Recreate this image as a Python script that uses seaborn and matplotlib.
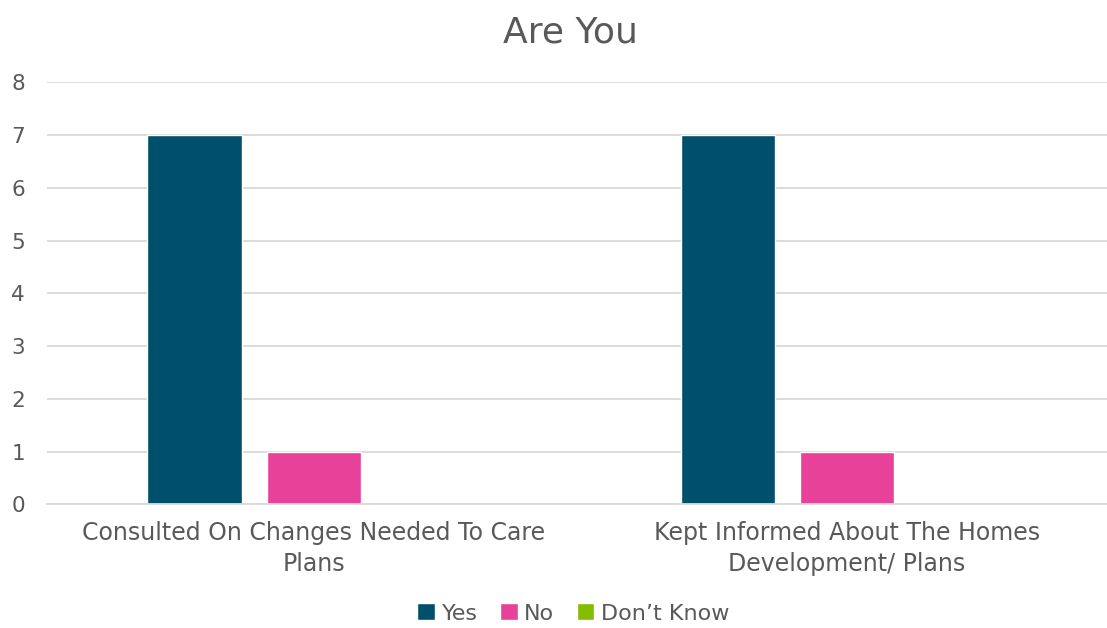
import matplotlib
matplotlib.use("Agg")
import matplotlib.pyplot as plt
import seaborn as sns
import pandas as pd

categories = ["Consulted On Changes Needed To Care\nPlans",
              "Kept Informed About The Homes\nDevelopment/ Plans"]
series = ["Yes", "No", "Don\u2019t Know"]
yes_vals = [7, 7]
no_vals = [1, 1]
dk_vals = [0, 0]
colors = ["#00506B", "#E8419A", "#84BC00"]
yticks = [0, 1, 2, 3, 4, 5, 6, 7, 8]

rows = []
for s, vals in zip(series, [yes_vals, no_vals, dk_vals]):
    for c, v in zip(categories, vals):
        rows.append({"category": c, "series": s, "value": v})
df = pd.DataFrame(rows)

sns.set_theme(style="white")
plt.rcParams['font.family'] = ['DejaVu Sans']
text_color = "#595959"

fig = plt.figure(figsize=(11.07, 6.28), dpi=100)
ax = fig.add_axes([0.0425, 0.197, 0.963, 0.672])

sns.barplot(data=df, x="category", y="value", hue="series", order=categories,
            hue_order=series, palette=colors, width=0.67, gap=0.21,
            saturation=1, ax=ax, legend=True)

ax.set_ylim(0, 8)
ax.set_xlim(-0.5, 1.5)
ax.set_yticks(yticks)
ax.yaxis.grid(True, color="#D9D9D9", linewidth=1.3)
ax.set_axisbelow(True)
for sp in ["top", "right", "left"]:
    ax.spines[sp].set_visible(False)
ax.spines["bottom"].set_color("#D9D9D9")
ax.spines["bottom"].set_linewidth(1.3)
ax.tick_params(axis="y", length=0, colors=text_color, labelsize=15.5, pad=16)
ax.tick_params(axis="x", length=0, colors=text_color, labelsize=17, pad=12)
ax.set_xlabel("")
ax.set_ylabel("")
for lab in ax.get_xticklabels():
    lab.set_linespacing(1.35)

fig.suptitle("Are You", x=0.515, y=0.975, fontsize=26, color=text_color)

handles, labels = ax.get_legend_handles_labels()
ax.legend_.remove()
fig.legend(handles, labels, loc="lower center", bbox_to_anchor=(0.518, -0.025),
           ncol=3, frameon=False, fontsize=16, labelcolor=text_color,
           handlelength=0.8, handleheight=0.8, handletextpad=0.3,
           columnspacing=1.0)

fig.savefig("out.png", dpi=100)
